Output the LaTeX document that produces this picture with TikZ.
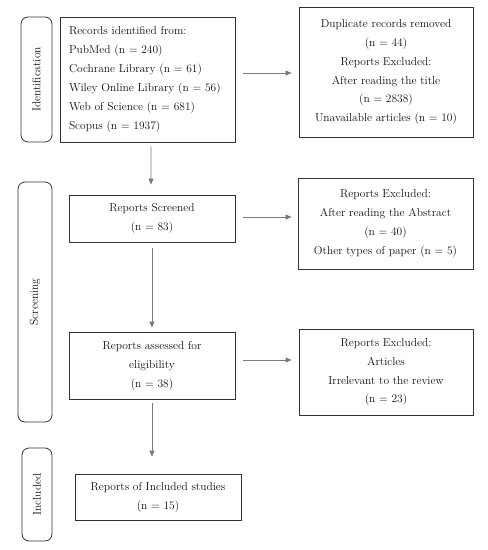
\documentclass[tikz,border=0pt]{standalone}
\usetikzlibrary{arrows.meta}
\definecolor{boxc}{HTML}{333333}
\definecolor{arrc}{HTML}{7A7A7A}
\definecolor{txt}{HTML}{111111}
\begin{document}
\begin{tikzpicture}[x=1bp,y=-1bp,
  font=\fontsize{11.5}{19}\selectfont,
  box/.style={draw=boxc, line width=0.8bp, inner sep=0pt, align=center, text=txt},
  side/.style={draw=boxc, line width=0.8bp, rounded corners=7bp, inner sep=0pt, rotate=90, text=txt},
  arr/.style={draw=arrc, line width=0.8bp, -{Triangle[length=6bp,width=5bp]}, arrc}]
\useasboundingbox[fill=white] (0,0) rectangle (488,550);

% side labels
\node[side, minimum width=125bp, minimum height=31bp] (sid1) at (36.5,79.5) {Identification};
\node[side, minimum width=240bp, minimum height=34bp] (sid2) at (35,302) {Screening};
\node[side, minimum width=93bp, minimum height=30bp] (sid3) at (37,494.5) {Included};

% main column
\node[box, minimum width=175bp, minimum height=125bp, text width=157bp, align=left] (rec) at (147.5,79.5)
  {Records identified from:\\PubMed (n = 240)\\Cochrane Library (n = 61)\\Wiley Online Library (n = 56)\\Web of Science (n = 681)\\Scopus (n = 1937)};
\node[box, minimum width=166bp, minimum height=47bp] (scr) at (152,218.5)
  {Reports Screened\\(n = 83)};
\node[box, minimum width=166bp, minimum height=67bp] (eli) at (152,365.5)
  {Reports assessed for\\eligibility\\(n = 38)};
\node[box, minimum width=166bp, minimum height=46bp] (inc) at (158,497)
  {Reports of Included studies\\(n = 15)};

% right column
\node[box, minimum width=174bp, minimum height=130bp] (ex1) at (386,72)
  {Duplicate records removed\\(n = 44)\\Reports Excluded:\\After reading the title\\(n = 2838)\\Unavailable articles (n = 10)};
\node[box, minimum width=175bp, minimum height=91bp] (ex2) at (385.5,223.5)
  {Reports Excluded:\\After reading the Abstract\\(n = 40)\\Other types of paper (n = 5)};
\node[box, minimum width=174bp, minimum height=86bp] (ex3) at (386,372)
  {Reports Excluded:\\Articles\\Irrelevant to the review\\(n = 23)};

% vertical arrows
\draw[arr, shorten <=4bp, shorten >=10bp] ([xshift=3.5bp]rec.south) -- ([xshift=-1bp]scr.north);
\draw[arr, shorten <=6bp, shorten >=4bp] (scr.south) -- (eli.north);
\draw[arr, shorten <=4bp, shorten >=17bp] (eli.south) -- (eli.south |- inc.north);

% horizontal arrows
\draw[arr, shorten <=8bp, shorten >=7bp] ([yshift=6.5bp]rec.east) coordinate (h1) -- (h1 -| ex1.west);
\draw[arr, shorten <=8bp, shorten >=6bp] ([yshift=1.5bp]scr.east) coordinate (h2) -- (h2 -| ex2.west);
\draw[arr, shorten <=8bp, shorten >=7bp] ([yshift=5.5bp]eli.east) coordinate (h3) -- (h3 -| ex3.west);
\end{tikzpicture}
\end{document}
